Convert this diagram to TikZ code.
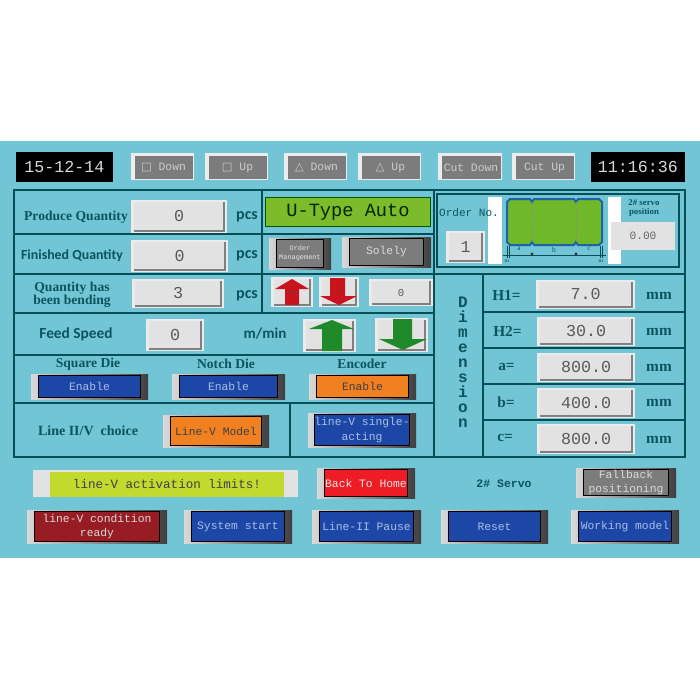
\documentclass[tikz,border=0pt]{standalone}
\usepackage{fontspec}
\setmainfont{Liberation Serif}
\setmonofont{Liberation Mono}
\newfontfamily\symfont{DejaVu Sans}
\newfontfamily\labelsans{Carlito}
\usetikzlibrary{positioning}

\definecolor{panelbg}{HTML}{72C5D4}
\definecolor{rulecol}{HTML}{064E58}
\definecolor{labelcol}{HTML}{0A5560}
\definecolor{keyblue}{HTML}{1C47A6}
\definecolor{keyorange}{HTML}{F08020}
\definecolor{keyred}{HTML}{EE1C25}
\definecolor{keymaroon}{HTML}{981C24}
\definecolor{keygray}{HTML}{7C7C7C}
\definecolor{keytext}{HTML}{A9BEE6}
\definecolor{autogreen}{HTML}{7CBC2A}
\definecolor{sketchgreen}{HTML}{6EB82A}
\definecolor{sketchblue}{HTML}{1F62A8}
\definecolor{limityellow}{HTML}{C2D92E}
\definecolor{boxgray}{HTML}{E2E2E2}
\definecolor{arrowgreen}{HTML}{45C845}
\definecolor{arrowgreenside}{HTML}{1F8A2A}
\definecolor{arrowredside}{HTML}{C8141C}

\tikzset{
	rule/.style={draw=rulecol,line width=1.4pt},
	thinrule/.style={draw=rulecol,line width=0.6pt},
	plate/.style={rectangle,inner sep=0pt,outer sep=0pt},
	rowlabel/.style={font=\bfseries\fontsize{10.2}{10}\selectfont,text=labelcol,align=center},
	sanslabel/.style={font=\labelsans\bfseries\fontsize{10.4}{10}\selectfont,text=labelcol},
	unitlabel/.style={font=\labelsans\bfseries\fontsize{12}{12}\selectfont,text=labelcol},
	dimlabel/.style={font=\bfseries\fontsize{11.5}{12}\selectfont,text=labelcol,anchor=west,inner sep=0pt},
	sketchlabel/.style={font=\fontsize{5.5}{6}\selectfont,text=labelcol},
	sketchtiny/.style={font=\bfseries\fontsize{2.8}{3}\selectfont,text=labelcol},
	monolabel/.style={font=\ttfamily\fontsize{8.5}{10.6}\selectfont,text=keytext,align=center},
	valfont/.style={font=\ttfamily\fontsize{12.5}{13}\selectfont,text=black!65},
	clockfont/.style={plate,fill=black,text=black!15,font=\ttfamily\fontsize{12.5}{13}\selectfont,minimum height=22.5pt},
	redarrow/.style={left color=arrowredside,middle color=keyred,right color=arrowredside},
	greenarrow/.style={left color=arrowgreenside,middle color=arrowgreen,right color=arrowgreenside},
}

% corners are given in pixels of the screen shot
\newcommand{\valbox}[7][valfont]{%
	\fill[boxgray!70!white] (#3,#4) rectangle (#5,#6);
	\node[plate,#1,fill=boxgray,minimum width={(#5-#3-6)*0.75pt},minimum height={(#6-#4-4)*0.75pt}]
		(#2) at ({(#3+#5)/2},{(#4+#6)/2}) {#7};
	\draw[gray,line width=0.8pt] (#5-3,#4+2) -- (#5-3,#6-2) -- (#3+3,#6-2);
}
\newcommand{\hmikey}[7][monolabel]{%
	\shade[left color=black!15,right color=black!75,middle color=black!45] (#3,#4) rectangle (#5,#6);
	\node[plate,#1,draw=black,line width=1pt,minimum width={(#5-#3-15)*0.75pt},minimum height={(#6-#4-3)*0.75pt}]
		(#2) at ({(#3+#5)/2},{(#4+#6)/2}) {#7};
}
\newcommand{\topkey}[6]{%
	\fill[white!85!gray] (#2,#3) rectangle (#4,#5);
	\node[plate,monolabel,text=black!20,fill=keygray,minimum width={(#4-#2-5)*0.75pt},minimum height={(#5-#3-4)*0.75pt}]
		(#1) at ({(#2+#4)/2+1},{(#3+#5)/2+1}) {#6};
}

\begin{document}
\begin{tikzpicture}[x=0.75pt,y=-0.75pt]
	\useasboundingbox (0,0) rectangle (700,700);
	\fill[white] (0,0) rectangle (700,700);
	\fill[panelbg] (0,141) rectangle (700,558);

	% clock row
	\node[clockfont,minimum width=72.75pt] (date) at (64.5,167) {15-12-14};
	\node[clockfont,minimum width=70.5pt] (time) at (638,167) {11:16:36};
	\topkey{sqdown}{131}{153}{194}{180}{{\symfont □} Down}
	\topkey{squp}{205}{153}{268}{180}{{\symfont □} Up}
	\topkey{tridown}{284}{153}{347}{180}{{\symfont △} Down}
	\topkey{triup}{358}{153}{421}{180}{{\symfont △} Up}
	\topkey{cutdown}{438}{153}{502}{180}{Cut Down}
	\topkey{cutup}{512}{153}{575}{180}{Cut Up}

	% table rules
	\draw[rule] (14,190) rectangle (685,457);
	\draw[rule] (14,234) -- (434,234);
	\draw[rule] (14,274) -- (685,274);
	\draw[rule] (14,313) -- (434,313);
	\draw[rule] (14,355) -- (434,355);
	\draw[rule] (14,403) -- (434,403);
	\draw[rule] (262,190) -- (262,313);
	\draw[rule] (290,403) -- (290,457);
	\draw[rule] (434,190) -- (434,457);
	\draw[rule] (483,274) -- (483,457);
	\draw[rule] (483,312) -- (685,312);
	\draw[rule] (483,348) -- (685,348);
	\draw[rule] (483,384) -- (685,384);
	\draw[rule] (483,420) -- (685,420);
	\draw[draw=rulecol,line width=0.8pt] (437,194) rectangle (679,267);

	% quantities
	\node[rowlabel] (produce) at (76,217) {Produce Quantity};
	\node[sanslabel] (finished) at (72,256) {Finished Quantity};
	\node[rowlabel] (bending) at (72,295) {Quantity has\\been bending};
	\node[sanslabel,font=\labelsans\bfseries\fontsize{11.5}{11}\selectfont] (feed) at (76,334) {Feed Speed};
	\valbox{produceval}{131}{200}{227}{233}{0}
	\valbox{finishedval}{131}{240}{228}{272}{0}
	\valbox{bendingval}{132}{279}{224}{308}{3}
	\valbox{feedval}{146}{319}{204}{351}{0}
	\node[unitlabel] (pcsa) at (247,217) {pcs};
	\node[unitlabel] (pcsb) at (247,256) {pcs};
	\node[unitlabel] (pcsc) at (247,296) {pcs};
	\node[unitlabel,font=\labelsans\bfseries\fontsize{11.3}{12}\selectfont] (mmin) at (265,334) {m/min};

	% mode
	\node[plate,fill=autogreen,draw=green!35!black,line width=0.8pt,text=black!85!green,font=\ttfamily\fontsize{14}{15}\selectfont,minimum width=124pt,minimum height=22pt] (auto) at (348,212) {U-Type Auto};
	\hmikey[monolabel,fill=keygray,text=black!10,font=\ttfamily\fontsize{5.2}{6.5}\selectfont]{order}{269}{238}{331}{269}{Order\\Management}
	\hmikey[monolabel,fill=keygray,text=black!15]{solely}{342}{237}{431}{267}{Solely}

	% jog arrows
	\valbox[]{plusbox}{271}{277}{313}{307}{}
	\valbox[]{minusbox}{319}{277}{359}{307}{}
	\shade[redarrow]
		(292,279) -- (309,289) -- (299,289) -- (299,305) -- (285,305) -- (285,289) -- (275,289) -- cycle;
	\shade[redarrow]
		(330,278) -- (345,278) -- (345,296) -- (357,296) -- (339,305) -- (320,296) -- (330,296) -- cycle;
	\node[font=\fontsize{7}{7}\selectfont,text=black!70] (plusmark) at (292,293) {+};
	\node[font=\fontsize{7}{7}\selectfont,text=black!70] (minusmark) at (338,291) {-};
	\valbox[font=\ttfamily\fontsize{8}{8}\selectfont,text=black!65]{jogval}{369}{279}{433}{306}{0}
	\valbox[]{fastbox}{303}{319}{356}{352}{}
	\valbox[]{slowbox}{375}{318}{428}{352}{}
	\shade[greenarrow]
		(332,320) -- (354,329) -- (342,329) -- (342,351) -- (322,351) -- (322,329) -- (309,329) -- cycle;
	\shade[greenarrow]
		(393,319) -- (412,319) -- (412,339) -- (427,339) -- (403,350) -- (379,339) -- (393,339) -- cycle;

	% die row
	\node[rowlabel] (square) at (88,364) {Square Die};
	\node[rowlabel] (notch) at (226,364) {Notch Die};
	\node[rowlabel] (encoder) at (362,364) {Encoder};
	\hmikey[monolabel,fill=keyblue]{squareen}{31}{374}{148}{399}{Enable}
	\hmikey[monolabel,fill=keyblue]{notchen}{172}{374}{285}{399}{Enable}
	\hmikey[monolabel,fill=keyorange,text=black!75]{encoderen}{309}{374}{416}{399}{Enable}

	% line choice
	\node[rowlabel,font=\bfseries\fontsize{10.5}{11}\selectfont] (choice) at (88,431) {Line II/V\ \ choice};
	\hmikey[monolabel,fill=keyorange,text=black!75]{vmodel}{163}{415}{269}{447}{Line-V Model}
	\hmikey[monolabel,fill=keyblue]{single}{308}{413}{416}{447}{line-V single-\\acting}

	% order number and sketch
	\valbox{orderval}{446}{231}{485}{263}{1}
	\fill[white] (488,197) rectangle (502,264);
	\fill[white] (608,197) rectangle (621,264);
	\node[font=\ttfamily\fontsize{8.3}{9}\selectfont,text=labelcol] (orderno) at (469,213) {Order No.};
	\draw[fill=sketchgreen,draw=sketchblue,line width=1.5pt]
		(510,199) -- (530,199) -- (532,202) -- (534,199) -- (574,199) -- (576,202) -- (578,199) -- (599,199) -- (602,202)
		-- (602,242) -- (599,245) -- (578,245) -- (576,242) -- (574,245) -- (534,245) -- (532,242) -- (530,245) -- (510,245) -- (507,242) -- (507,202) -- cycle;
	\draw[densely dotted,black!45,line width=0.4pt] (532,202) -- (532,242);
	\draw[densely dotted,black!45,line width=0.4pt] (576,202) -- (576,242);
	\draw[thinrule] (503,255) -- (606,255);
	\foreach \tickx in {507,509,600,602} {\draw[thinrule] (\tickx,246) -- (\tickx,258);}
	\fill[black!80] (532,254) circle (1.6);
	\fill[black!80] (576,254) circle (1.6);
	\node[sketchlabel] (ska) at (519,249) {a};
	\node[sketchlabel] (skb) at (554,250) {b};
	\node[sketchlabel] (skc) at (589,249) {c};
	\node[sketchtiny] (skh) at (507,261) {H1};
	\node[sketchtiny] (skk) at (601,261) {H2};
	\node[rowlabel,font=\bfseries\fontsize{6.6}{7.2}\selectfont] (servopos) at (644,208) {2\# servo\\position};
	\node[plate,fill=boxgray,font=\ttfamily\fontsize{8.4}{9}\selectfont,text=black!60,minimum width=48pt,minimum height=21pt] (servoval) at (643,236) {0.00};

	% dimensions
	\node[font=\ttfamily\bfseries\fontsize{12}{11.2}\selectfont,text=labelcol,align=center] (dimension) at (463,362) {D\\i\\m\\e\\n\\s\\i\\o\\n};
	\node[dimlabel] (hone) at (492,295) {H1=};
	\node[dimlabel] (htwo) at (493,331) {H2=};
	\node[dimlabel] (aeq) at (498,367) {a=};
	\node[dimlabel] (beq) at (497,402) {b=};
	\node[dimlabel] (ceq) at (497,438) {c=};
	\valbox{honeval}{536}{280}{635}{309}{7.0}
	\valbox{htwoval}{537}{317}{635}{346}{30.0}
	\valbox{aval}{537}{353}{635}{382}{800.0}
	\valbox{bval}{537}{388}{635}{418}{400.0}
	\valbox{cval}{537}{424}{635}{454}{800.0}
	\foreach \rowy/\rowname in {296/mmh,332/mmk,368/mma,403/mmb,440/mmc} {
		\node[font=\bfseries\fontsize{11.5}{12}\selectfont,text=labelcol] (\rowname) at (659,\rowy) {mm};
	}

	% bottom keys
	\node[plate,fill=boxgray,minimum width=198.75pt,minimum height=20.25pt] (limitback) at (165.5,483.5) {};
	\node[plate,fill=limityellow,font=\ttfamily\fontsize{9.4}{10}\selectfont,text=black!75,minimum width=175.5pt,minimum height=18.75pt] (limit) at (167,484.5) {line-V activation limits!};
	\hmikey[monolabel,fill=keyred,text=black!10]{home}{317}{468}{415}{498}{Back To Home}
	\node[font=\ttfamily\bfseries\fontsize{8.6}{9}\selectfont,text=labelcol] (servo) at (504,484) {2\# Servo};
	\hmikey[monolabel,fill=keygray,text=black!15]{fallback}{576}{468}{676}{497}{Fallback\\positioning}
	\hmikey[monolabel,fill=keymaroon,text=black!15]{ready}{27}{510}{167}{543}{line-V condition\\ready}
	\hmikey[monolabel,fill=keyblue]{start}{184}{510}{292}{543}{System start}
	\hmikey[monolabel,fill=keyblue]{pause}{312}{510}{421}{543}{Line-II Pause}
	\hmikey[monolabel,fill=keyblue]{reset}{441}{510}{548}{543}{Reset}
	\hmikey[monolabel,fill=keyblue]{working}{571}{510}{679}{543}{Working model}
\end{tikzpicture}
\end{document}
